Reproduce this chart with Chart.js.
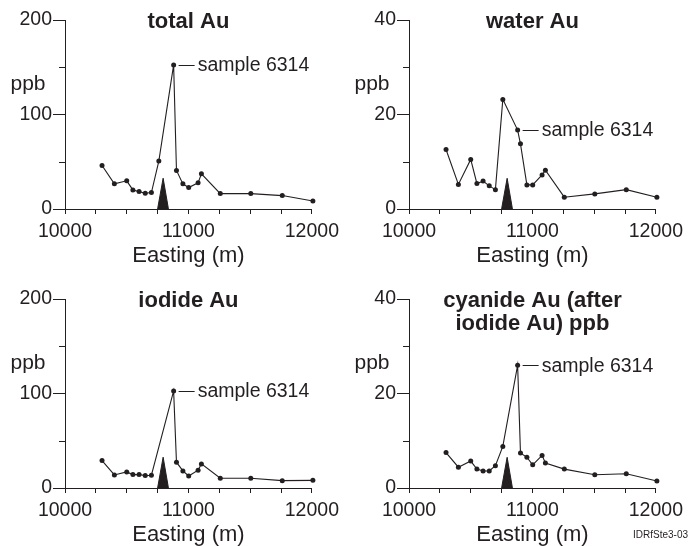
<!DOCTYPE html>
<html lang="en">
<head>
<meta charset="UTF-8">
<title>Au profiles</title>
<script src="https://cdn.jsdelivr.net/npm/chart.js"></script>
<style>
    body{
        margin: 0;
        width: 690px;
        height: 546px;
        overflow: hidden;
        background: #fff;
        position: relative;
        font-family: "Liberation Sans", Arial, sans-serif;
    }
    .panel{
        position: absolute;
        width: 345px;
        height: 273px;
    }
    #p1{left: 0; top: 0;}
    #p2{left: 344px; top: 0;}
    #p3{left: 0; top: 279px;}
    #p4{left: 344px; top: 279px;}
    .tag{
        position: absolute;
        left: 633px;
        top: 529px;
        font-size: 10px;
        color: #231f20;
    }
</style>
</head>
<body>
<div class="panel" id="p1"><canvas id="c1" width="345" height="273"></canvas></div>
<div class="panel" id="p2"><canvas id="c2" width="345" height="273"></canvas></div>
<div class="panel" id="p3"><canvas id="c3" width="345" height="273"></canvas></div>
<div class="panel" id="p4"><canvas id="c4" width="345" height="273"></canvas></div>
<div class="tag">IDRfSte3-03</div>
<script>
    // sample eastings (m), shared by all four profiles
    const easting = [10300, 10400, 10500, 10550, 10600, 10650, 10700, 10760, 10880, 10903,
                     10955, 11002, 11078, 11105, 11258, 11505, 11760, 12008];
    const totalAu   = [46, 26.6, 29.8, 20.2, 18.4, 16.7, 17.4, 50.7, 152.5, 40.8,
                       26.6, 22.7, 27.7, 37.2, 16.3, 16.3, 14.2, 8.5];
    const waterAu   = [12.6, 5.2, 10.5, 5.4, 5.9, 4.9, 4.1, 23.2, 16.7, 13.8,
                       5.1, 5.1, 7.2, 8.2, 2.5, 3.2, 4.1, 2.5];
    const iodideAu  = [29.0, 13.8, 17.0, 14.2, 14.2, 13.1, 13.5, null, 102.7, 27.3,
                       18.1, 12.7, 18.8, 25.5, 10.3, 10.3, 7.8, 8.1];
    const cyanideAu = [7.5, 4.4, 5.7, 4.0, 3.6, 3.6, 4.7, 8.8, 26.0, 7.4,
                       6.5, 4.9, 6.9, 5.3, 4.0, 2.8, 3.0, 1.5];

    // black triangle marking the site
    const markerEasting = [10750, 10795, 10838];
    const markerLarge = [0, 32.6, 0];   // on 0-200 axes
    const markerSmall = [0, 6.5, 0];    // on 0-40 axes

    const sampleIndex = 8;
    const sampleLabel = 'sample 6314';
    const unitLabel = 'ppb';
    const xTitle = 'Easting (m)';

    const ink = '#231f20';
    const fam = '"Liberation Sans", Arial, Helvetica, sans-serif';

    const decor = {
        id: 'decor',
        afterDraw(chart, args, opts) {
            const ctx = chart.ctx;
            const a = chart.chartArea;
            const y = chart.scales.y;
            ctx.save();
            ctx.strokeStyle = ink;
            ctx.fillStyle = ink;
            ctx.lineWidth = 1;
            // short unlabeled ticks on y
            y.ticks.forEach(t => {
                if (!t.label) {
                    const py = Math.round(y.getPixelForValue(t.value)) + 0.5;
                    ctx.beginPath();
                    ctx.moveTo(a.left - 6, py);
                    ctx.lineTo(a.left, py);
                    ctx.stroke();
                }
            });
            ctx.textAlign = 'center';
            ctx.textBaseline = 'middle';
            ctx.font = 'bold 22px ' + fam;
            opts.title.forEach((line, i) => {
                ctx.fillText(line, (a.left + a.right) / 2, 22 + i * 23);
            });
            ctx.font = '21px ' + fam;
            ctx.fillText(unitLabel, a.left - 37, 84);
            const pt = chart.getDatasetMeta(0).data[sampleIndex];
            ctx.beginPath();
            ctx.moveTo(pt.x + 5, Math.round(pt.y) + 0.5);
            ctx.lineTo(pt.x + 21, Math.round(pt.y) + 0.5);
            ctx.stroke();
            ctx.textAlign = 'left';
            ctx.font = '19.5px ' + fam;
            ctx.fillText(sampleLabel, pt.x + 24, pt.y + 1);
            ctx.restore();
        }
    };

    function makeChart(id, title, values, yMax, yStep, yLabelStep, marker) {
        return new Chart(document.getElementById(id), {
            type: 'line',
            plugins: [decor],
            data: {
                datasets: [
                    {
                        data: easting.map((e, i) => ({x: e, y: values[i]})),
                        borderColor: ink,
                        borderWidth: 1.1,
                        pointRadius: 2.5,
                        pointBackgroundColor: ink,
                        pointBorderWidth: 0,
                        tension: 0,
                        spanGaps: true,
                        clip: false,
                        order: 1
                    },
                    {
                        data: markerEasting.map((e, i) => ({x: e, y: marker[i]})),
                        borderColor: ink,
                        borderWidth: 1,
                        backgroundColor: ink,
                        fill: 'origin',
                        pointRadius: 0,
                        tension: 0,
                        order: 2
                    }
                ]
            },
            options: {
                responsive: false,
                animation: false,
                layout: {padding: {top: 20, right: 29, bottom: 0, left: 0}},
                plugins: {
                    legend: {display: false},
                    tooltip: {enabled: false},
                    decor: {title: title}
                },
                scales: {
                    x: {
                        type: 'linear',
                        min: 10000,
                        max: 12000,
                        afterFit: s => { s.height = 64; },
                        ticks: {
                            stepSize: 250,
                            autoSkip: false,
                            maxRotation: 0,
                            padding: 6,
                            color: ink,
                            font: {family: fam, size: 19.5},
                            callback: v => v % 1000 === 0 ? String(v) : ''
                        },
                        grid: {drawOnChartArea: false, tickLength: 5, color: ink},
                        border: {color: ink, width: 1},
                        title: {
                            display: true,
                            text: xTitle,
                            color: ink,
                            font: {family: fam, size: 22},
                            padding: {top: 0, bottom: 4}
                        }
                    },
                    y: {
                        min: 0,
                        max: yMax,
                        afterFit: s => { s.width = 65; },
                        ticks: {
                            stepSize: yStep,
                            padding: 1,
                            color: ink,
                            font: {family: fam, size: 19.5},
                            callback: v => v % yLabelStep === 0 ? String(v) : ''
                        },
                        grid: {
                            drawOnChartArea: false,
                            tickLength: 12,
                            color: ink,
                            tickColor: c => (c.tick && c.tick.label) ? ink : 'rgba(0,0,0,0)'
                        },
                        border: {color: ink, width: 1}
                    }
                }
            }
        });
    }

    makeChart('c1', ['total Au'], totalAu, 200, 50, 100, markerLarge);
    makeChart('c2', ['water Au'], waterAu, 40, 10, 20, markerSmall);
    makeChart('c3', ['iodide Au'], iodideAu, 200, 50, 100, markerLarge);
    makeChart('c4', ['cyanide Au (after', 'iodide Au) ppb'], cyanideAu, 40, 10, 20, markerSmall);
</script>
</body>
</html>
